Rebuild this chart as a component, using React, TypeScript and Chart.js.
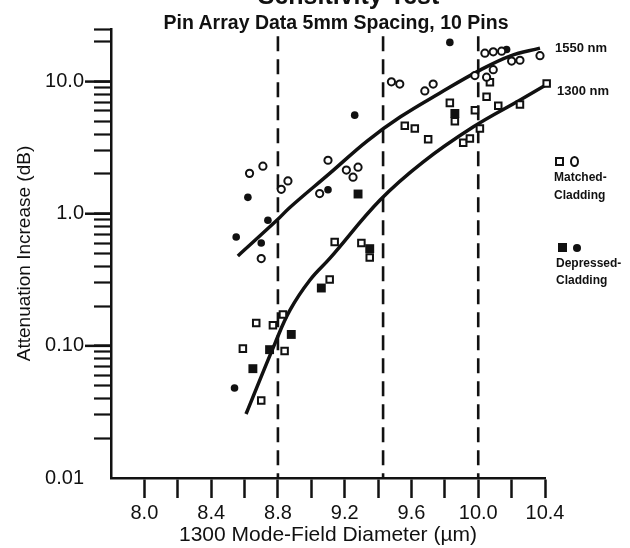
import React, { useEffect, useRef } from "react";
import { Chart, registerables } from "chart.js";

Chart.register(...registerables);

const FONT = "'Liberation Sans', Arial, Helvetica, sans-serif";
const INK = "#111111";

// Matched-cladding, 1550 nm (open circles)
const matchedCircleX = [8.63, 8.71, 8.82, 8.86, 8.70, 9.10, 9.21, 9.28, 9.25, 9.05, 9.48, 9.53, 9.68, 9.73, 10.04, 10.09, 10.14, 10.20, 10.25, 10.37, 9.98, 10.05, 10.09];
const matchedCircleY = [2.02, 2.29, 1.53, 1.77, 0.458, 2.54, 2.14, 2.25, 1.89, 1.42, 9.95, 9.57, 8.5, 9.57, 16.4, 16.8, 17.0, 14.3, 14.5, 15.7, 11.1, 10.8, 12.3];

// Depressed-cladding, 1550 nm (filled circles)
const depressedCircleX = [8.62, 8.74, 8.55, 8.70, 9.10, 9.26, 9.83, 10.17, 8.54];
const depressedCircleY = [1.33, 0.893, 0.667, 0.601, 1.52, 5.57, 19.8, 17.5, 0.048];

// Matched-cladding, 1300 nm (open squares)
const matchedSquareX = [9.14, 9.30, 9.35, 9.11, 8.83, 8.77, 8.67, 8.84, 8.59, 8.70, 9.56, 9.62, 9.70, 9.83, 9.86, 9.91, 9.95, 9.98, 10.01, 10.07, 10.41, 10.05, 10.12, 10.25];
const matchedSquareY = [0.611, 0.601, 0.466, 0.318, 0.173, 0.143, 0.149, 0.0914, 0.0953, 0.0386, 4.63, 4.42, 3.66, 6.9, 5.02, 3.44, 3.71, 6.08, 4.42, 9.9, 9.69, 7.67, 6.56, 6.71];

// Depressed-cladding, 1300 nm (filled squares)
const depressedSquareX = [9.28, 9.35, 9.06, 8.88, 8.75, 8.65, 9.86];
const depressedSquareY = [1.41, 0.544, 0.274, 0.122, 0.0936, 0.0672, 5.74];

// Fitted curves
const curve1550X = [8.56, 8.795, 8.873, 9.112, 9.334, 9.532, 9.771, 10.011, 10.19, 10.37];
const curve1550Y = [0.479, 0.895, 1.12, 2.03, 3.55, 5.39, 8.2, 12.2, 15.6, 17.9];
const curve1300X = [8.609, 8.783, 8.873, 8.992, 9.112, 9.412, 9.669, 9.969, 10.251, 10.41];
const curve1300Y = [0.0305, 0.105, 0.187, 0.315, 0.461, 1.27, 2.46, 4.53, 7.26, 9.5];

// Dashed reference lines
const dashX = [8.8, 9.43, 10.0];
const dashTop = 22;
const dashBottom = 0.01;

// Axes
const xMin = 7.8;
const xMax = 10.4;
const yMin = 0.01;
const yMax = 25;
const xTickValues = [8.0, 8.2, 8.4, 8.6, 8.8, 9.0, 9.2, 9.4, 9.6, 9.8, 10.0, 10.2, 10.4];
const xTickLabels = ["8.0", "", "8.4", "", "8.8", "", "9.2", "", "9.6", "", "10.0", "", "10.4"];
const yTickValues = [
  0.01, 0.02, 0.03, 0.04, 0.05, 0.06, 0.07, 0.08, 0.09,
  0.1, 0.2, 0.3, 0.4, 0.5, 0.6, 0.7, 0.8, 0.9,
  1, 2, 3, 4, 5, 6, 7, 8, 9,
  10, 20, 25,
];
const yMajorValues = [0.01, 0.1, 1, 10];
const yMajorLabels = ["0.01", "0.10", "1.0", "10.0"];

const toPts = (xs: number[], ys: number[]) => xs.map((x, i) => ({ x, y: ys[i] }));
const near = (a: number, b: number) => Math.abs(a - b) < 1e-9 * Math.max(1, Math.abs(b));

const majorTickPlugin = {
  id: "majorTicks",
  afterDraw(chart: any) {
    const y = chart.scales.y;
    const ctx = chart.ctx;
    ctx.save();
    ctx.strokeStyle = INK;
    ctx.lineWidth = 2.5;
    yMajorValues.forEach((v) => {
      if (near(v, yMin)) return;
      const py = y.getPixelForValue(v);
      ctx.beginPath();
      ctx.moveTo(y.right - 26, py);
      ctx.lineTo(y.right, py);
      ctx.stroke();
    });
    ctx.restore();
  },
};

export default function App() {
  const canvasRef = useRef<HTMLCanvasElement | null>(null);

  useEffect(() => {
    const canvas = canvasRef.current;
    if (!canvas) return;
    Chart.defaults.font.family = FONT;
    Chart.defaults.color = INK;

    const pointBase = { showLine: false, clip: false as any };
    const datasets: any[] = [
      {
        ...pointBase,
        label: "Matched 1550",
        data: toPts(matchedCircleX, matchedCircleY),
        pointStyle: "circle",
        pointRadius: 3.6,
        pointBorderWidth: 2,
        pointBorderColor: INK,
        pointBackgroundColor: "#ffffff",
      },
      {
        ...pointBase,
        label: "Matched 1300",
        data: toPts(matchedSquareX, matchedSquareY),
        pointStyle: "rect",
        pointRadius: 4.6,
        pointBorderWidth: 2,
        pointBorderColor: INK,
        pointBackgroundColor: "#ffffff",
      },
      {
        ...pointBase,
        label: "Depressed 1550",
        data: toPts(depressedCircleX, depressedCircleY),
        pointStyle: "circle",
        pointRadius: 3.8,
        pointBorderWidth: 0,
        pointBackgroundColor: INK,
      },
      {
        ...pointBase,
        label: "Depressed 1300",
        data: toPts(depressedSquareX, depressedSquareY),
        pointStyle: "rect",
        pointRadius: 6.3,
        pointBorderWidth: 0,
        pointBackgroundColor: INK,
      },
      {
        label: "1550 nm",
        data: toPts(curve1550X, curve1550Y),
        showLine: true,
        clip: false,
        borderColor: INK,
        borderWidth: 3.5,
        pointRadius: 0,
        tension: 0.4,
      },
      {
        label: "1300 nm",
        data: toPts(curve1300X, curve1300Y),
        showLine: true,
        clip: false,
        borderColor: INK,
        borderWidth: 3.5,
        pointRadius: 0,
        tension: 0.4,
      },
      ...dashX.map((d) => ({
        label: "dash " + d,
        data: [
          { x: d, y: dashTop },
          { x: d, y: dashBottom },
        ],
        showLine: true,
        borderColor: INK,
        borderWidth: 2.6,
        borderDash: [15, 8],
        pointRadius: 0,
      })),
    ];

    const chart = new Chart(canvas, {
      type: "scatter",
      data: { datasets },
      plugins: [majorTickPlugin],
      options: {
        responsive: false,
        animation: false,
        devicePixelRatio: 1,
        layout: { padding: { top: 29, right: 85, bottom: 0, left: 0 } },
        plugins: {
          legend: { display: false },
          tooltip: { enabled: false },
          title: { display: false },
        },
        scales: {
          x: {
            type: "linear",
            position: "bottom",
            min: xMin,
            max: xMax,
            afterBuildTicks: (s: any) => {
              s.ticks = xTickValues.map((v) => ({ value: v }));
            },
            afterFit: (s: any) => {
              s.height = 70;
            },
            ticks: {
              autoSkip: false,
              maxRotation: 0,
              color: INK,
              font: { size: 20, family: FONT },
              padding: 3,
              callback: (_v: any, i: number) => xTickLabels[i],
            },
            grid: {
              drawOnChartArea: false,
              drawTicks: true,
              tickLength: 20,
              tickWidth: 2.5,
              tickColor: INK,
            },
            border: { display: true, color: INK, width: 2.5 },
            title: {
              display: true,
              text: "1300 Mode-Field Diameter (µm)",
              color: INK,
              font: { size: 21, family: FONT },
              padding: { top: 0, bottom: 0 },
            },
          },
          y: {
            type: "logarithmic",
            position: "left",
            min: yMin,
            max: yMax,
            afterBuildTicks: (s: any) => {
              s.ticks = yTickValues.map((v) => ({ value: v }));
            },
            afterFit: (s: any) => {
              s.width = 111;
            },
            ticks: {
              autoSkip: false,
              color: INK,
              font: { size: 20, family: FONT },
              padding: 10,
              callback: (v: any) => {
                const i = yMajorValues.findIndex((m) => near(Number(v), m));
                return i >= 0 ? yMajorLabels[i] : "";
              },
            },
            grid: {
              drawOnChartArea: false,
              drawTicks: true,
              tickLength: 17,
              tickWidth: 2.2,
              tickColor: (c: any) => (c.tick && near(c.tick.value, yMin) ? "rgba(0,0,0,0)" : INK),
            },
            border: { display: true, color: INK, width: 2.5 },
            title: {
              display: true,
              text: "Attenuation Increase (dB)",
              color: INK,
              font: { size: 19, family: FONT },
              padding: { top: 13, bottom: 0 },
            },
          },
        },
      } as any,
    });

    return () => chart.destroy();
  }, []);

  const txt: React.CSSProperties = {
    position: "absolute",
    fontFamily: FONT,
    color: INK,
    whiteSpace: "nowrap",
  };
  const small: React.CSSProperties = { ...txt, fontSize: 12, fontWeight: 700, lineHeight: "14px" };

  return (
    <div style={{ position: "fixed", left: 0, top: 0, width: 630, height: 548, overflow: "hidden", background: "#fff" }}>
      <canvas ref={canvasRef} width={630} height={548} style={{ position: "absolute", left: 0, top: 0, width: 630, height: 548 }} />
      <div style={{ ...txt, left: 0, width: 697, top: -18, textAlign: "center", fontSize: 25, fontWeight: 700, lineHeight: "26px" }}>
        Sensitivity Test
      </div>
      <div style={{ ...txt, left: 0, width: 672, top: 12, textAlign: "center", fontSize: 19.5, fontWeight: 700, lineHeight: "20px" }}>
        Pin Array Data 5mm Spacing, 10 Pins
      </div>
      <div style={{ ...small, left: 555, top: 41, fontSize: 13 }}>1550 nm</div>
      <div style={{ ...small, left: 557, top: 84, fontSize: 13 }}>1300 nm</div>

      <div style={{ position: "absolute", left: 555, top: 157, width: 5, height: 5, border: "2px solid " + INK, background: "#fff" }} />
      <div style={{ position: "absolute", left: 570, top: 156, width: 5, height: 7, border: "2px solid " + INK, borderRadius: "50%", background: "#fff" }} />
      <div style={{ ...small, left: 554, top: 170 }}>Matched-</div>
      <div style={{ ...small, left: 554, top: 188 }}>Cladding</div>

      <div style={{ position: "absolute", left: 558, top: 243, width: 9, height: 9, background: INK }} />
      <div style={{ position: "absolute", left: 573, top: 244, width: 8, height: 8, borderRadius: "50%", background: INK }} />
      <div style={{ ...small, left: 556, top: 256 }}>Depressed-</div>
      <div style={{ ...small, left: 556, top: 273 }}>Cladding</div>
    </div>
  );
}
